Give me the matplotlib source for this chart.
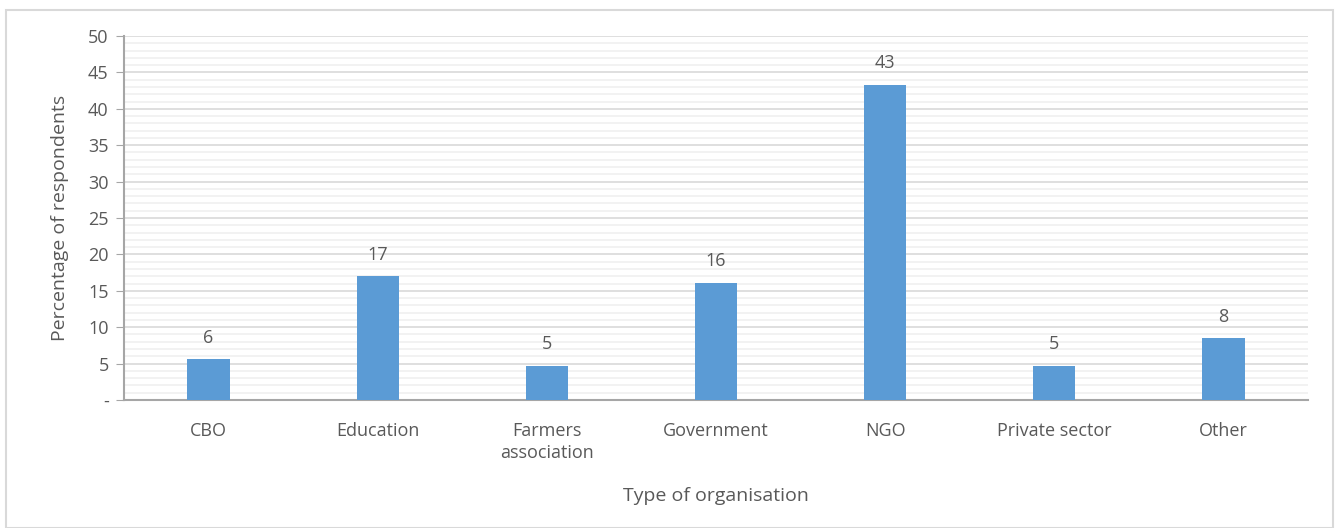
import matplotlib.pyplot as plt
import matplotlib.ticker as ticker
from matplotlib.patches import Rectangle
import numpy as np

categories = ['CBO', 'Education', 'Farmers\nassociation', 'Government', 'NGO', 'Private sector', 'Other']
percentages = [5.6, 17.0, 4.7, 16.1, 43.3, 4.7, 8.5]

plt.rcParams['font.family'] = ['Open Sans', 'DejaVu Sans']
text_color = '#595959'

fig = plt.figure(figsize=(13.39, 5.28), dpi=100)
ax = fig.add_axes([124 / 1339, 128 / 528, (1308 - 124) / 1339, 364 / 528])

# outer chart border
fig.patches.append(Rectangle((6 / 1339, 0), 1327 / 1339, 518 / 528, transform=fig.transFigure,
                             fill=False, edgecolor='#D9D9D9', linewidth=1.5))

x = np.arange(len(categories))
bars = ax.bar(x, percentages, width=0.25, color='#5B9BD5', zorder=3)
for b, v in zip(bars, percentages):
    ax.annotate(f'{v:.0f}', (b.get_x() + b.get_width() / 2, v), xytext=(0, 9),
                textcoords='offset points', ha='center', va='bottom', fontsize=13, color=text_color)

ax.set_xlim(-0.5, len(categories) - 0.5)
ax.set_ylim(0, 50)
ax.yaxis.set_major_locator(ticker.MultipleLocator(5))
ax.yaxis.set_minor_locator(ticker.MultipleLocator(1))
ax.yaxis.set_major_formatter(ticker.FuncFormatter(lambda v, pos: '-' if v == 0 else f'{v:.0f}'))
ax.grid(axis='y', which='major', color='#D9D9D9', linewidth=1.2, zorder=0)
ax.grid(axis='y', which='minor', color='#F0F0F0', linewidth=1.2, zorder=0)

ax.set_xticks(x)
ax.set_xticklabels(categories, fontsize=13, color=text_color, linespacing=1.3)
ax.tick_params(axis='x', length=0, pad=16)
ax.tick_params(axis='y', which='major', length=6, color='#A6A6A6', labelsize=13, labelcolor=text_color, pad=5)
ax.tick_params(axis='y', which='minor', length=0)

for s in ['top', 'right']:
    ax.spines[s].set_visible(False)
for s in ['left', 'bottom']:
    ax.spines[s].set_color('#A6A6A6')
    ax.spines[s].set_linewidth(1.5)

ax.set_xlabel('Type of organisation', fontsize=14, color=text_color, labelpad=18)
ax.set_ylabel('Percentage of respondents', fontsize=14, color=text_color, labelpad=14)

fig.savefig('out.png', dpi=100)
